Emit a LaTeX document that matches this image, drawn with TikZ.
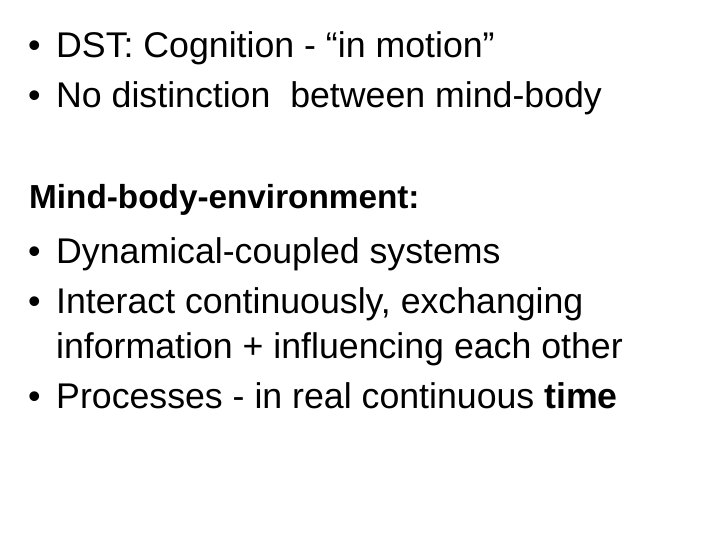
\documentclass[tikz,border=0pt]{standalone}
\usepackage{fontspec}
\setmainfont{Liberation Sans}
\begin{document}
\begin{tikzpicture}[x=1pt,y=-1pt,
  txt/.style={anchor=base west,inner sep=0pt,font=\fontsize{35.7}{40}\selectfont}]
\useasboundingbox[fill=white] (0,0) rectangle (720,540);
\node[txt] (b1) at (28,58) {•};
\node[txt] (t1) at (56,58) {DST: Cognition - “in motion”};
\node[txt] (b2) at (28,108) {•};
\node[txt] (t2) at (56,108) {No distinction\ \ between mind-body};
\node[txt,font=\fontsize{33.3}{38}\selectfont\bfseries] (h) at (29,208) {Mind-body-environment:};
\node[txt] (b3) at (28,263) {•};
\node[txt] (t3) at (56,263) {Dynamical-coupled systems};
\node[txt] (b4) at (28,313) {•};
\node[txt] (t4) at (56,313) {Interact continuously, exchanging};
\node[txt] (t5) at (56,358) {information + influencing each other};
\node[txt] (b6) at (28,408) {•};
\node[txt] (t6) at (56,408) {Processes - in real continuous \textbf{time}};
\end{tikzpicture}
\end{document}
